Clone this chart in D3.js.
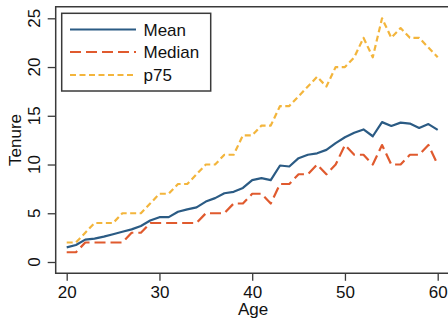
<!DOCTYPE html>
<html><head><meta charset="utf-8">
<script src="https://cdn.jsdelivr.net/npm/d3@7"></script>
<style>body{margin:0;background:#fff;overflow:hidden}svg{display:block}</style>
</head><body>
<script>
const ages = d3.range(20, 61);
const meanVals = [1.5,1.75,2.3,2.4,2.6,2.85,3.1,3.35,3.7,4.25,4.6,4.6,5.15,5.4,5.6,6.2,6.55,7.05,7.2,7.6,8.4,8.6,8.4,9.9,9.8,10.65,11.0,11.15,11.5,12.2,12.8,13.25,13.6,12.9,14.35,13.95,14.3,14.2,13.75,14.15,13.55];
const medianVals = [1,1,2,2,2,2,2,3,3,4,4,4,4,4,4,5,5,5,6,6,7,7,6,8,8,9,9,10,9,10,12,11,11,10,12,10,10,11,11,12,10];
const p75Vals = [2,2,3,4,4,4,5,5,5,6,7,7,8,8,9,10,10,11,11,13,13,14,14,16,16,17,18,19,18,20,20,21,23,21,25,23,24,23,23,22,21];
const xTicks = [20,30,40,50,60];
const yTicks = [0,5,10,15,20,25];
const seriesNames = ["Mean","Median","p75"];

const W = 448, H = 320;
const svg = d3.select("body").append("svg").attr("width", W).attr("height", H);
const x = d3.scaleLinear().domain([20,60]).range([66.7,437.7]);
const y = d3.scaleLinear().domain([0,25]).range([262,18.3]);
const font = "'Liberation Sans', Arial, sans-serif";
const frameCol = "#3a3a3a";

const series = [
  {name: seriesNames[0], vals: meanVals, color: "#2b5b84", dash: null},
  {name: seriesNames[1], vals: medianVals, color: "#e05a2e", dash: "11,5"},
  {name: seriesNames[2], vals: p75Vals, color: "#f3b53c", dash: "6,3.5"}
];

// frame
svg.append("path").attr("d", `M${W+5},6.7 H55.7 V273.3 H${W+5}`)
  .attr("fill","none").attr("stroke",frameCol).attr("stroke-width",1.5);

// y axis
const yAx = svg.append("g").attr("transform","translate(55.7,0)")
  .call(d3.axisLeft(y).tickValues(yTicks).tickSize(8).tickPadding(0).tickFormat(""));
yAx.select(".domain").remove();
yAx.selectAll("line").attr("stroke",frameCol).attr("stroke-width",1.3);
yTicks.forEach(t => {
  svg.append("text").attr("transform",`translate(39.5,${y(t)}) rotate(-90)`)
    .attr("text-anchor","middle").attr("font-family",font).attr("font-size",17)
    .attr("fill","#111").text(t);
});
svg.append("text").attr("transform",`translate(20.5,140) rotate(-90)`)
  .attr("text-anchor","middle").attr("font-family",font).attr("font-size",17)
  .attr("fill","#111").text("Tenure");

// x axis
const xAx = svg.append("g").attr("transform","translate(0,273.3)")
  .call(d3.axisBottom(x).tickValues(xTicks).tickSize(7.5).tickPadding(6));
xAx.select(".domain").remove();
xAx.selectAll("line").attr("stroke",frameCol).attr("stroke-width",1.3);
xAx.selectAll("text").attr("font-family",font).attr("font-size",17).attr("fill","#111")
  .attr("dy",null).attr("y",24.5);
svg.append("text").attr("x",253).attr("y",315).attr("text-anchor","middle")
  .attr("font-family",font).attr("font-size",17).attr("fill","#111").text("Age");

// lines
const line = d3.line().x((d,i)=>x(ages[i])).y(d=>y(d));
series.slice().reverse().forEach(s => {
  svg.append("path").datum(s.vals).attr("d", line)
    .attr("fill","none").attr("stroke",s.color).attr("stroke-width",2.2)
    .attr("stroke-linejoin","round")
    .attr("stroke-dasharray", s.dash);
});

// legend
svg.append("rect").attr("x",61.7).attr("y",13.3).attr("width",149).attr("height",77.7)
  .attr("fill","#fff").attr("stroke",frameCol).attr("stroke-width",1.5);
const rowY = [29.5, 52, 75];
series.forEach((s,i) => {
  svg.append("line").attr("x1",70).attr("x2",136).attr("y1",rowY[i]).attr("y2",rowY[i])
    .attr("stroke",s.color).attr("stroke-width",2.2).attr("stroke-dasharray",s.dash);
  svg.append("text").attr("x",143.5).attr("y",rowY[i]+6).attr("font-family",font)
    .attr("font-size",17).attr("fill","#111").text(s.name);
});
</script>
</body></html>
